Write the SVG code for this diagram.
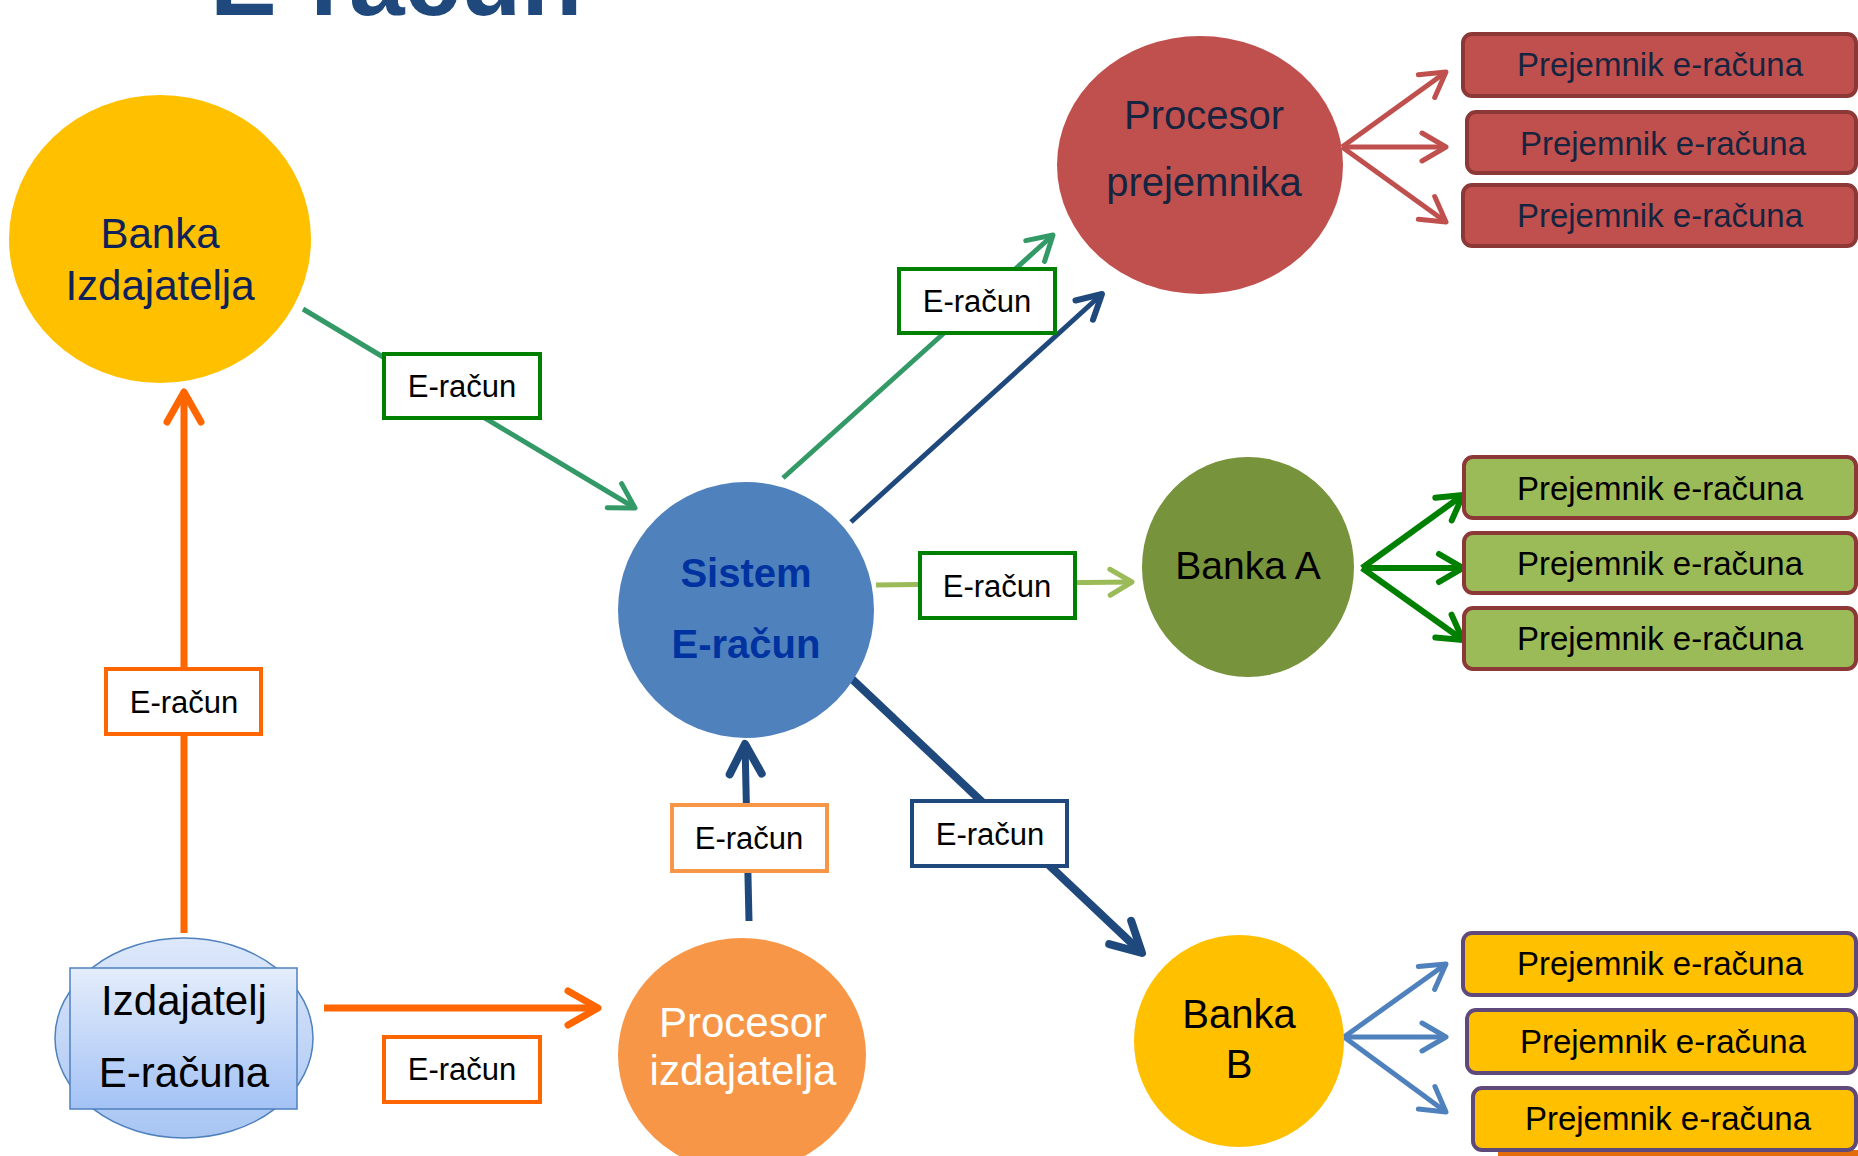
<svg xmlns="http://www.w3.org/2000/svg" width="1858" height="1156" viewBox="0 0 1858 1156">
  <style>
    text { font-family: "Liberation Sans", Arial, sans-serif; text-anchor: middle; }
    .node { font-size: 42px; }
    .lbl { font-size: 31px; fill: #000; }
    .rcv { font-size: 33px; }
    .lblbox { fill: #fff; stroke-width: 4; }
    .line { fill: none; stroke-linecap: butt; }
  </style>
  <defs>
    <linearGradient id="gSq" x1="0" y1="0" x2="0" y2="1">
      <stop offset="0" stop-color="#E4EDFB"/>
      <stop offset="1" stop-color="#A3C2F5"/>
    </linearGradient>
    <linearGradient id="gEl" x1="0" y1="0" x2="0" y2="1">
      <stop offset="0" stop-color="#DDE8FA"/>
      <stop offset="1" stop-color="#A8C5F3"/>
    </linearGradient>
    <marker id="mTeal" markerUnits="userSpaceOnUse" viewBox="-40 -30 50 60" markerWidth="50" markerHeight="60" refX="0" refY="0" orient="auto">
      <path d="M-24,-14 L0,0 L-24,14" fill="none" stroke="#339966" stroke-width="5" stroke-linecap="round" stroke-linejoin="round"/>
    </marker>
    <marker id="mNavy" markerUnits="userSpaceOnUse" viewBox="-40 -30 50 60" markerWidth="50" markerHeight="60" refX="0" refY="0" orient="auto">
      <path d="M-24,-13 L0,0 L-24,13" fill="none" stroke="#1F497D" stroke-width="6" stroke-linecap="round" stroke-linejoin="round"/>
    </marker>
    <marker id="mNavyB" markerUnits="userSpaceOnUse" viewBox="-40 -30 50 60" markerWidth="50" markerHeight="60" refX="0" refY="0" orient="auto">
      <path d="M-30,-16 L0,0 L-30,16" fill="none" stroke="#1F497D" stroke-width="8" stroke-linecap="round" stroke-linejoin="round"/>
    </marker>
    <marker id="mOrange" markerUnits="userSpaceOnUse" viewBox="-40 -30 50 60" markerWidth="50" markerHeight="60" refX="0" refY="0" orient="auto">
      <path d="M-30,-17 L0,0 L-30,17" fill="none" stroke="#FF6600" stroke-width="7" stroke-linecap="round" stroke-linejoin="round"/>
    </marker>
    <marker id="mLG" markerUnits="userSpaceOnUse" viewBox="-40 -30 50 60" markerWidth="50" markerHeight="60" refX="0" refY="0" orient="auto">
      <path d="M-22,-13 L0,0 L-22,13" fill="none" stroke="#9BBB59" stroke-width="5" stroke-linecap="round" stroke-linejoin="round"/>
    </marker>
    <marker id="mGreen" markerUnits="userSpaceOnUse" viewBox="-40 -30 50 60" markerWidth="50" markerHeight="60" refX="0" refY="0" orient="auto">
      <path d="M-24,-14 L0,0 L-24,14" fill="none" stroke="#008000" stroke-width="6" stroke-linecap="round" stroke-linejoin="round"/>
    </marker>
    <marker id="mRed" markerUnits="userSpaceOnUse" viewBox="-40 -30 50 60" markerWidth="50" markerHeight="60" refX="0" refY="0" orient="auto">
      <path d="M-24,-14 L0,0 L-24,14" fill="none" stroke="#C0504D" stroke-width="5" stroke-linecap="round" stroke-linejoin="round"/>
    </marker>
    <marker id="mBlue" markerUnits="userSpaceOnUse" viewBox="-40 -30 50 60" markerWidth="50" markerHeight="60" refX="0" refY="0" orient="auto">
      <path d="M-24,-14 L0,0 L-24,14" fill="none" stroke="#4F81BD" stroke-width="5" stroke-linecap="round" stroke-linejoin="round"/>
    </marker>
  </defs>

  <rect x="0" y="0" width="1858" height="1156" fill="#ffffff"/>

  <!-- title (cut off at top) -->
  <text x="210" y="15" style="font-size:100px;font-weight:bold;text-anchor:start" fill="#1F497D">E-račun</text>

  <!-- connectors -->
  <g id="connectors">
    <line class="line" x1="303" y1="309" x2="635" y2="508" stroke="#339966" stroke-width="5" marker-end="url(#mTeal)"/>
    <line class="line" x1="783" y1="478" x2="1053" y2="235" stroke="#339966" stroke-width="5" marker-end="url(#mTeal)"/>
    <line class="line" x1="851" y1="522" x2="1102" y2="294" stroke="#1F497D" stroke-width="5" marker-end="url(#mNavy)"/>
    <line class="line" x1="876" y1="585" x2="1132" y2="582" stroke="#9BBB59" stroke-width="5" marker-end="url(#mLG)"/>
    <line class="line" x1="835" y1="663" x2="1142" y2="953" stroke="#1F497D" stroke-width="8" marker-end="url(#mNavyB)"/>
    <line class="line" x1="749" y1="921" x2="745" y2="744" stroke="#1F497D" stroke-width="7" marker-end="url(#mNavyB)"/>
    <line class="line" x1="184" y1="933" x2="184" y2="392" stroke="#FF6600" stroke-width="7" marker-end="url(#mOrange)"/>
    <line class="line" x1="324" y1="1008" x2="598" y2="1008" stroke="#FF6600" stroke-width="7" marker-end="url(#mOrange)"/>

    <line class="line" x1="1342" y1="147" x2="1446" y2="72" stroke="#C0504D" stroke-width="5" marker-end="url(#mRed)"/>
    <line class="line" x1="1342" y1="147" x2="1446" y2="147" stroke="#C0504D" stroke-width="5" marker-end="url(#mRed)"/>
    <line class="line" x1="1342" y1="147" x2="1446" y2="222" stroke="#C0504D" stroke-width="5" marker-end="url(#mRed)"/>

    <line class="line" x1="1362" y1="568" x2="1463" y2="495" stroke="#008000" stroke-width="6" marker-end="url(#mGreen)"/>
    <line class="line" x1="1362" y1="568" x2="1463" y2="568" stroke="#008000" stroke-width="6" marker-end="url(#mGreen)"/>
    <line class="line" x1="1362" y1="568" x2="1463" y2="640" stroke="#008000" stroke-width="6" marker-end="url(#mGreen)"/>

    <line class="line" x1="1344" y1="1037" x2="1446" y2="964" stroke="#4F81BD" stroke-width="5" marker-end="url(#mBlue)"/>
    <line class="line" x1="1344" y1="1037" x2="1446" y2="1037" stroke="#4F81BD" stroke-width="5" marker-end="url(#mBlue)"/>
    <line class="line" x1="1344" y1="1037" x2="1446" y2="1112" stroke="#4F81BD" stroke-width="5" marker-end="url(#mBlue)"/>

    <!-- edge labels -->
    <g id="lbl1"><rect class="lblbox" x="384" y="354" width="156" height="64" stroke="#008000"/><text class="lbl" x="462" y="397">E-račun</text></g>
    <g id="lbl2"><rect class="lblbox" x="899" y="269" width="156" height="64" stroke="#008000"/><text class="lbl" x="977" y="312">E-račun</text></g>
    <g id="lbl3"><rect class="lblbox" x="920" y="553" width="155" height="65" stroke="#008000"/><text class="lbl" x="997" y="597">E-račun</text></g>
    <g id="lbl4"><rect class="lblbox" x="912" y="801" width="155" height="65" stroke="#1F497D"/><text class="lbl" x="990" y="845">E-račun</text></g>
    <g id="lbl5"><rect class="lblbox" x="672" y="805" width="155" height="66" stroke="#F79646"/><text class="lbl" x="749" y="849">E-račun</text></g>
    <g id="lbl6"><rect class="lblbox" x="106" y="669" width="155" height="65" stroke="#FF6600"/><text class="lbl" x="184" y="713">E-račun</text></g>
    <g id="lbl7"><rect class="lblbox" x="384" y="1037" width="156" height="65" stroke="#FF6600"/><text class="lbl" x="462" y="1080">E-račun</text></g>
  </g>

  <!-- nodes -->
  <g id="banka-izdajatelja">
    <ellipse cx="160" cy="239" rx="151" ry="144" fill="#FFC000"/>
    <text class="node" x="160" y="248" fill="#0E2259">Banka</text>
    <text class="node" x="160" y="300" fill="#0E2259">Izdajatelja</text>
  </g>

  <g id="sistem">
    <ellipse cx="746" cy="610" rx="128" ry="128" fill="#4F81BD"/>
    <text class="node" x="746" y="587" style="font-weight:bold;font-size:40px" fill="#0033A0">Sistem</text>
    <text class="node" x="746" y="658" style="font-weight:bold;font-size:40px" fill="#0033A0">E-račun</text>
  </g>

  <g id="procesor-prejemnika">
    <ellipse cx="1200" cy="165" rx="143" ry="129" fill="#C0504D"/>
    <text class="node" x="1204" y="129" style="font-size:40px" fill="#17243F">Procesor</text>
    <text class="node" x="1204" y="196" style="font-size:40px" fill="#17243F">prejemnika</text>
  </g>

  <g id="banka-a">
    <ellipse cx="1248" cy="567" rx="106" ry="110" fill="#77933C"/>
    <text class="node" x="1248" y="579" style="font-size:39px" fill="#000">Banka A</text>
  </g>

  <g id="banka-b">
    <ellipse cx="1239" cy="1041" rx="105" ry="106" fill="#FFC000"/>
    <text class="node" x="1239" y="1028" style="font-size:40px" fill="#000">Banka</text>
    <text class="node" x="1239" y="1078" style="font-size:40px" fill="#000">B</text>
  </g>

  <g id="procesor-izdajatelja">
    <ellipse cx="742" cy="1055" rx="124" ry="117" fill="#F79646"/>
    <text class="node" x="743" y="1037" fill="#fff">Procesor</text>
    <text class="node" x="743" y="1085" fill="#fff">izdajatelja</text>
  </g>

  <g id="izdajatelj">
    <ellipse cx="184" cy="1038" rx="129" ry="100" fill="url(#gEl)" stroke="#4F81BD" stroke-width="1.5"/>
    <rect x="70" y="968" width="227" height="141" fill="url(#gSq)" stroke="#4F81BD" stroke-width="1.5"/>
    <text class="node" x="184" y="1015" fill="#000">Izdajatelj</text>
    <text class="node" x="184" y="1087" fill="#000">E-računa</text>
  </g>

  <!-- receivers of Procesor prejemnika -->
  <g id="pp-r1"><rect x="1463" y="34" width="393" height="62" rx="9" fill="#C0504D" stroke="#8C3836" stroke-width="4"/><text class="rcv" x="1660" y="76" fill="#17243F">Prejemnik e-računa</text></g>
  <g id="pp-r2"><rect x="1467" y="112" width="389" height="61" rx="9" fill="#C0504D" stroke="#8C3836" stroke-width="4"/><text class="rcv" x="1663" y="155" fill="#17243F">Prejemnik e-računa</text></g>
  <g id="pp-r3"><rect x="1463" y="185" width="393" height="61" rx="9" fill="#C0504D" stroke="#8C3836" stroke-width="4"/><text class="rcv" x="1660" y="227" fill="#17243F">Prejemnik e-računa</text></g>

  <!-- receivers of Banka A -->
  <g id="ba-r1"><rect x="1464" y="457" width="392" height="61" rx="9" fill="#9BBB59" stroke="#8C3836" stroke-width="4"/><text class="rcv" x="1660" y="500" fill="#000">Prejemnik e-računa</text></g>
  <g id="ba-r2"><rect x="1464" y="533" width="392" height="60" rx="9" fill="#9BBB59" stroke="#8C3836" stroke-width="4"/><text class="rcv" x="1660" y="575" fill="#000">Prejemnik e-računa</text></g>
  <g id="ba-r3"><rect x="1464" y="608" width="392" height="61" rx="9" fill="#9BBB59" stroke="#8C3836" stroke-width="4"/><text class="rcv" x="1660" y="650" fill="#000">Prejemnik e-računa</text></g>

  <!-- receivers of Banka B -->
  <rect x="1498" y="1150" width="360" height="8" fill="#E46C0A"/>
  <g id="bb-r1"><rect x="1463" y="933" width="393" height="62" rx="9" fill="#FFC000" stroke="#5F497A" stroke-width="4"/><text class="rcv" x="1660" y="975" fill="#000">Prejemnik e-računa</text></g>
  <g id="bb-r2"><rect x="1467" y="1010" width="389" height="63" rx="9" fill="#FFC000" stroke="#5F497A" stroke-width="4"/><text class="rcv" x="1663" y="1053" fill="#000">Prejemnik e-računa</text></g>
  <g id="bb-r3"><rect x="1473" y="1088" width="383" height="62" rx="9" fill="#FFC000" stroke="#5F497A" stroke-width="4"/><text class="rcv" x="1668" y="1130" fill="#000">Prejemnik e-računa</text></g>
</svg>
